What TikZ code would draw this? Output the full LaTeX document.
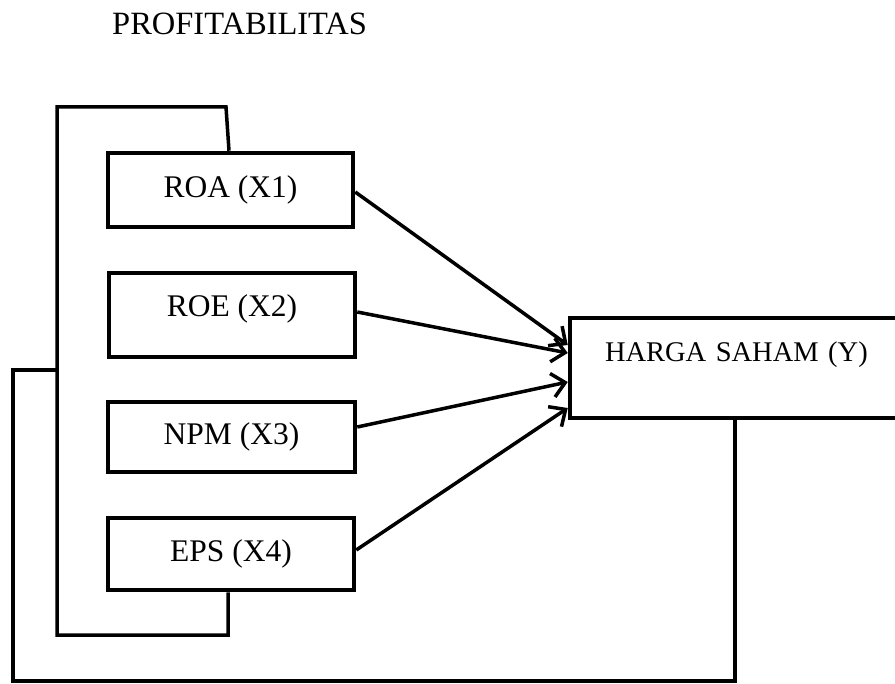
\documentclass[tikz,border=0pt]{standalone}
\usepackage{fontspec}
\setmainfont{Liberation Serif}
\usetikzlibrary{arrows.meta}
\begin{document}
\begin{tikzpicture}[x=1pt,y=-1pt,
  varbox/.style={draw,line width=4.5pt,rectangle,inner sep=0pt,minimum width=245pt,
    font=\fontsize{31.5}{36}\selectfont,text height=21.3pt,text depth=5.6pt},
  framel/.style={line width=3.5pt,line join=miter},
  conn/.style={line width=3.5pt,-{Straight Barb[length=13pt,width=24pt]}}]
\clip (0,0) rectangle (895,684);
\node[anchor=base west,inner sep=0pt,font=\fontsize{32.5}{36}\selectfont] (title) at (112,35) {PROFITABILITAS};
\node[varbox,minimum height=74pt] (roa) at (230.5,190) {ROA (X1)};
\node[varbox,minimum height=84pt,minimum width=246pt,text depth=17.3pt] (roe) at (232,315) {ROE (X2)};
\node[varbox,minimum height=70pt,minimum width=247pt] (npm) at (231.5,437) {NPM (X3)};
\node[varbox,minimum height=72pt,minimum width=246pt] (eps) at (231,554) {EPS (X4)};
\node[draw,line width=4.5pt,rectangle,minimum width=350pt,minimum height=100pt,
  inner xsep=35pt,inner ysep=0pt,text width=280pt,align=left,
  font=\fontsize{28.5}{33}\selectfont,text height=19.3pt,text depth=31.3pt] (harga) at (745,368) {HARGA SAHAM (Y)};
% arrows
\draw[conn] ([yshift=-2pt]roa.east) -- ([yshift=23pt]harga.west);
\draw[conn] ([yshift=3pt]roe.east) -- ([yshift=15pt]harga.west);
\draw[conn] ([yshift=10pt]npm.east) -- ([yshift=-14pt]harga.west);
\draw[conn] ([yshift=4pt]eps.east) -- ([yshift=-40pt]harga.west);
% bracket
\coordinate (bt) at (226,107);
\coordinate (bl) at (57,107);
\coordinate (bb) at (57,635);
\coordinate (br) at (228,635);
\draw[framel] ([xshift=-1.5pt]roa.north) -- (bt) -- (bl) -- (bb) -- (br) -- (br |- eps.south);
% outer frame
\coordinate (fl) at (57,370);
\coordinate (ft) at (13,370);
\coordinate (fb) at (13,681);
\coordinate (fr) at (735,681);
\draw[framel] (fl) -- (ft) -- (fb) -- (fr) -- (fr |- harga.south);
\end{tikzpicture}
\end{document}
